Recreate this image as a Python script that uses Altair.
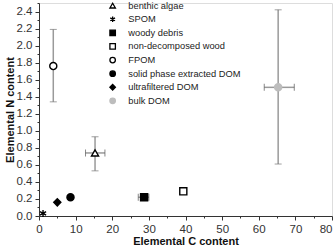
import altair as alt
import pandas as pd

categories = ["benthic algae", "SPOM", "woody debris", "non-decomposed wood",
              "FPOM", "solid phase extracted DOM", "ultrafiltered DOM", "bulk DOM"]
c_content = [15.3, 1.1, 28.7, 39.4, 3.9, 8.6, 5.0, 65.3]
n_content = [0.74, 0.03, 0.22, 0.29, 1.76, 0.22, 0.16, 1.51]
c_err_low = [12.7, None, 27.1, None, None, None, None, 61.5]
c_err_high = [18.0, None, 30.0, None, None, None, None, 69.7]
n_err_low = [0.53, None, None, None, 1.34, None, None, 0.61]
n_err_high = [0.93, None, None, None, 2.19, None, None, 2.42]

y_major = [round(0.2 * i, 1) for i in range(13)]
y_minor = [round(0.1 + 0.2 * i, 1) for i in range(13)]
x_major = list(range(0, 81, 10))
x_minor = list(range(5, 80, 10))

shapes = ["triangle-up",
          "M0,-1L0,1M-0.87,-0.5L0.87,0.5M-0.87,0.5L0.87,-0.5",
          "square", "square", "circle", "circle", "diamond", "circle"]
fills = ["white", "black", "black", "white", "white", "black", "black", "#bdbdbd"]
strokes = ["black", "black", "black", "black", "black", "black", "black", "#bdbdbd"]

df = pd.DataFrame({
    "cat": categories, "C": c_content, "N": n_content,
    "clo": c_err_low, "chi": c_err_high, "nlo": n_err_low, "nhi": n_err_high,
})

xs = alt.Scale(domain=[0, 80], nice=False, zero=False)
ys = alt.Scale(domain=[0, 2.5], nice=False, zero=False)
font = "Liberation Sans"
ERR = "#9a9a9a"

x_axis = alt.Axis(values=x_major, title="Elemental C content", grid=False,
                  tickSize=4, labelPadding=3, labelFontSize=11.5, labelColor="#333",
                  labelFont=font, titleFont=font, titleFontSize=11, titleFontWeight="bold",
                  titleColor="#111", domainColor="#333", tickColor="#333",
                  titleX=146.5, titleY=25, titleBaseline="middle", titleAlign="center",
                  orient="bottom", labelFlush=False,
                  labelAlign=alt.expr("datum.value == 80 ? 'right' : 'center'"))
y_axis = alt.Axis(values=y_major, format=".1f", title="Elemental N content", grid=False,
                  tickSize=4, labelPadding=3, labelFontSize=11.5, labelColor="#333",
                  labelFont=font, titleFont=font, titleFontSize=11, titleFontWeight="bold",
                  titleColor="#111", domainColor="#333", tickColor="#333",
                  titleX=-29, titleY=106.5, titleAngle=-90, titleBaseline="middle",
                  titleAlign="center", orient="left", labelFlush=False)
x_axis_minor = alt.Axis(values=x_minor, title=None, labels=False, domain=False, grid=False,
                        tickSize=2, tickColor="#333", orient="bottom")
y_axis_minor = alt.Axis(values=y_minor, title=None, labels=False, domain=False, grid=False,
                        tickSize=2, tickColor="#333", orient="left")

base = alt.Chart(df)

minor = base.mark_point(opacity=0).encode(
    x=alt.X("C:Q", scale=xs, axis=x_axis_minor),
    y=alt.Y("N:Q", scale=ys, axis=y_axis_minor),
)

vrule = base.mark_rule(color=ERR, strokeWidth=1.5).encode(
    x=alt.X("C:Q", scale=xs, axis=None),
    y=alt.Y("nlo:Q", scale=ys, axis=None), y2="nhi:Q",
)
hrule = base.mark_rule(color=ERR, strokeWidth=1.5).encode(
    x=alt.X("clo:Q", scale=xs, axis=None), x2="chi:Q",
    y=alt.Y("N:Q", scale=ys, axis=None),
)
cap_lo = base.mark_tick(orient="horizontal", color="#777", size=7, thickness=1).encode(
    x=alt.X("C:Q", scale=xs, axis=None), y=alt.Y("nlo:Q", scale=ys, axis=None))
cap_hi = base.mark_tick(orient="horizontal", color="#777", size=7, thickness=1).encode(
    x=alt.X("C:Q", scale=xs, axis=None), y=alt.Y("nhi:Q", scale=ys, axis=None))
cap_l = base.mark_tick(orient="vertical", color="#555", size=7, thickness=1).encode(
    x=alt.X("clo:Q", scale=xs, axis=None), y=alt.Y("N:Q", scale=ys, axis=None))
cap_r = base.mark_tick(orient="vertical", color="#555", size=7, thickness=1).encode(
    x=alt.X("chi:Q", scale=xs, axis=None), y=alt.Y("N:Q", scale=ys, axis=None))

legend = alt.Legend(orient="none", legendX=69, legendY=-2, title=None,
                    labelFont=font, labelFontSize=9.3, labelColor="#222",
                    symbolSize=30, symbolStrokeWidth=1.3, labelOffset=11,
                    rowPadding=2.6, padding=0, symbolType="circle")

points = base.mark_point(filled=True, size=50, strokeWidth=1.4, opacity=1).encode(
    x=alt.X("C:Q", scale=xs, axis=x_axis),
    y=alt.Y("N:Q", scale=ys, axis=y_axis),
    shape=alt.Shape("cat:N", scale=alt.Scale(domain=categories, range=shapes), legend=legend),
    fill=alt.Fill("cat:N", scale=alt.Scale(domain=categories, range=fills), legend=legend),
    stroke=alt.Stroke("cat:N", scale=alt.Scale(domain=categories, range=strokes), legend=legend),
)

chart = alt.layer(minor, vrule, hrule, cap_lo, cap_hi, cap_l, cap_r, points).resolve_axis(
    x="independent", y="independent"
).properties(
    width=293, height=213,
    autosize=alt.AutoSizeParams(type="none"),
    padding={"left": 39, "top": 3, "right": 3, "bottom": 34},
).configure_view(stroke=None).configure(background="white")

chart.save("out.html", embed_options={"renderer": "svg", "actions": False})
